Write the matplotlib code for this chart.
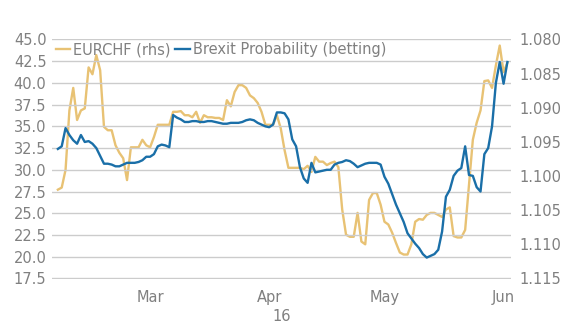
import matplotlib
matplotlib.use("Agg")
import matplotlib.pyplot as plt
import matplotlib.dates as mdates
import pandas as pd

# daily values, 6 Feb 2016 -> 2 Jun 2016
dates = pd.date_range("2016-02-06", "2016-06-02", freq="D")

brexit_prob = [
    32.4, 32.7, 34.8, 34.0, 33.4, 33.0, 34.0, 33.2, 33.3, 33.0,
    32.5, 31.6, 30.7, 30.7, 30.6, 30.4, 30.4, 30.6, 30.8, 30.8,
    30.8, 30.9, 31.1, 31.5, 31.5, 31.8, 32.7, 32.9, 32.8, 32.6,
    36.3, 36.0, 35.8, 35.5, 35.5, 35.6, 35.6, 35.5, 35.5, 35.6,
    35.6, 35.5, 35.4, 35.3, 35.3, 35.4, 35.4, 35.4, 35.5, 35.7,
    35.8, 35.7, 35.4, 35.2, 35.0, 34.9, 35.2, 36.6, 36.6, 36.5,
    35.8, 33.5, 32.7, 30.3, 29.0, 28.5, 30.8, 29.7, 29.8, 29.9,
    30.0, 30.0, 30.6, 30.8, 30.9, 31.1, 31.0, 30.7, 30.3, 30.5,
    30.7, 30.8, 30.8, 30.8, 30.6, 29.2, 28.4, 27.2, 26.0, 25.0,
    24.0, 22.7, 22.1, 21.5, 21.0, 20.3, 19.9, 20.1, 20.3, 20.8,
    22.9, 26.9, 27.7, 29.3, 29.9, 30.2, 32.7, 29.4, 29.3, 28.0,
    27.5, 31.8, 32.5, 35.0, 40.0, 42.4, 39.9, 42.4,
]

eurchf = [
    1.1020, 1.1017, 1.0991, 1.0904, 1.0871, 1.0918, 1.0904, 1.0901, 1.0841, 1.0851,
    1.0823, 1.0845, 1.0928, 1.0933, 1.0933, 1.0955, 1.0966, 1.0974, 1.1006, 1.0958,
    1.0958, 1.0958, 1.0947, 1.0955, 1.0958, 1.0943, 1.0925, 1.0925, 1.0925, 1.0925,
    1.0906, 1.0906, 1.0905, 1.0911, 1.0911, 1.0914, 1.0906, 1.0922, 1.0911, 1.0914,
    1.0914, 1.0915, 1.0915, 1.0918, 1.0889, 1.0898, 1.0877, 1.0867, 1.0867, 1.0871,
    1.0882, 1.0886, 1.0893, 1.0906, 1.0925, 1.0925, 1.0925, 1.0911, 1.0930, 1.0962,
    1.0988, 1.0988, 1.0988, 1.0988, 1.0990, 1.0985, 1.0994, 1.0972, 1.0979, 1.0979,
    1.0984, 1.0981, 1.0979, 1.0987, 1.1049, 1.1086, 1.1089, 1.1089, 1.1054, 1.1096,
    1.1100, 1.1035, 1.1025, 1.1025, 1.1042, 1.1067, 1.1071, 1.1083, 1.1098, 1.1112,
    1.1115, 1.1115, 1.1100, 1.1067, 1.1063, 1.1064, 1.1057, 1.1054, 1.1054, 1.1057,
    1.1060, 1.1049, 1.1046, 1.1088, 1.1090, 1.1090, 1.1079, 1.1013, 1.0947, 1.0922,
    1.0904, 1.0861, 1.0860, 1.0871, 1.0838, 1.0809, 1.0848, 1.0834,
]

left_ticks = [17.5, 20.0, 22.5, 25.0, 27.5, 30.0, 32.5, 35.0, 37.5, 40.0, 42.5, 45.0]
right_ticks = [1.080, 1.085, 1.090, 1.095, 1.100, 1.105, 1.110, 1.115]

yellow = "#E8C274"
blue = "#1A6FA8"
grey = "#808080"

plt.rcParams["font.family"] = "DejaVu Sans"
fig = plt.figure(figsize=(5.79, 3.36), dpi=100)
ax = fig.add_axes([0.09, 0.17, 0.793, 0.714])
ax2 = ax.twinx()

ax2.plot(dates, eurchf, color=yellow, lw=1.7, label="EURCHF (rhs)", zorder=2)
ax.plot(dates, brexit_prob, color=blue, lw=1.7, label="Brexit Probability (betting)", zorder=3)
ax.set_zorder(ax2.get_zorder() + 1)
ax.patch.set_visible(False)

# small margin so the 17.5 / 45.0 gridlines are not clipped
ax.set_ylim(17.45, 45.05)
ax.set_yticks(left_ticks)
ax.set_yticklabels([f"{t:.1f}" for t in left_ticks])
ax2.set_ylim(1.115064, 1.079936)
ax2.set_yticks(right_ticks)
ax2.set_yticklabels([f"{t:.3f}" for t in right_ticks])

ax.set_xlim(pd.Timestamp("2016-02-04 12:00"), pd.Timestamp("2016-06-03"))
ax.xaxis.set_major_locator(mdates.MonthLocator())
ax.xaxis.set_major_formatter(mdates.DateFormatter("%b"))
ax.set_xlabel("16", color=grey, fontsize=10.5, labelpad=3)

ax.grid(axis="y", color="#cccccc", lw=1.0)
ax.set_axisbelow(True)
for a in (ax, ax2):
    for s in a.spines.values():
        s.set_visible(False)
    a.tick_params(length=0, labelsize=10.5, labelcolor=grey)
ax.tick_params(axis="y", pad=4)
ax2.tick_params(axis="y", pad=6)
ax.tick_params(axis="x", pad=8)

h1, l1 = ax2.get_legend_handles_labels()
h2, l2 = ax.get_legend_handles_labels()
leg = ax.legend(h1 + h2, l1 + l2, loc="upper left", ncol=2, frameon=False,
                fontsize=10.5, handlelength=1.0, handletextpad=0.2, columnspacing=0.3,
                borderaxespad=0.0, bbox_to_anchor=(-0.005, 1.01))
for t in leg.get_texts():
    t.set_color(grey)

fig.savefig("out.png", dpi=100)
